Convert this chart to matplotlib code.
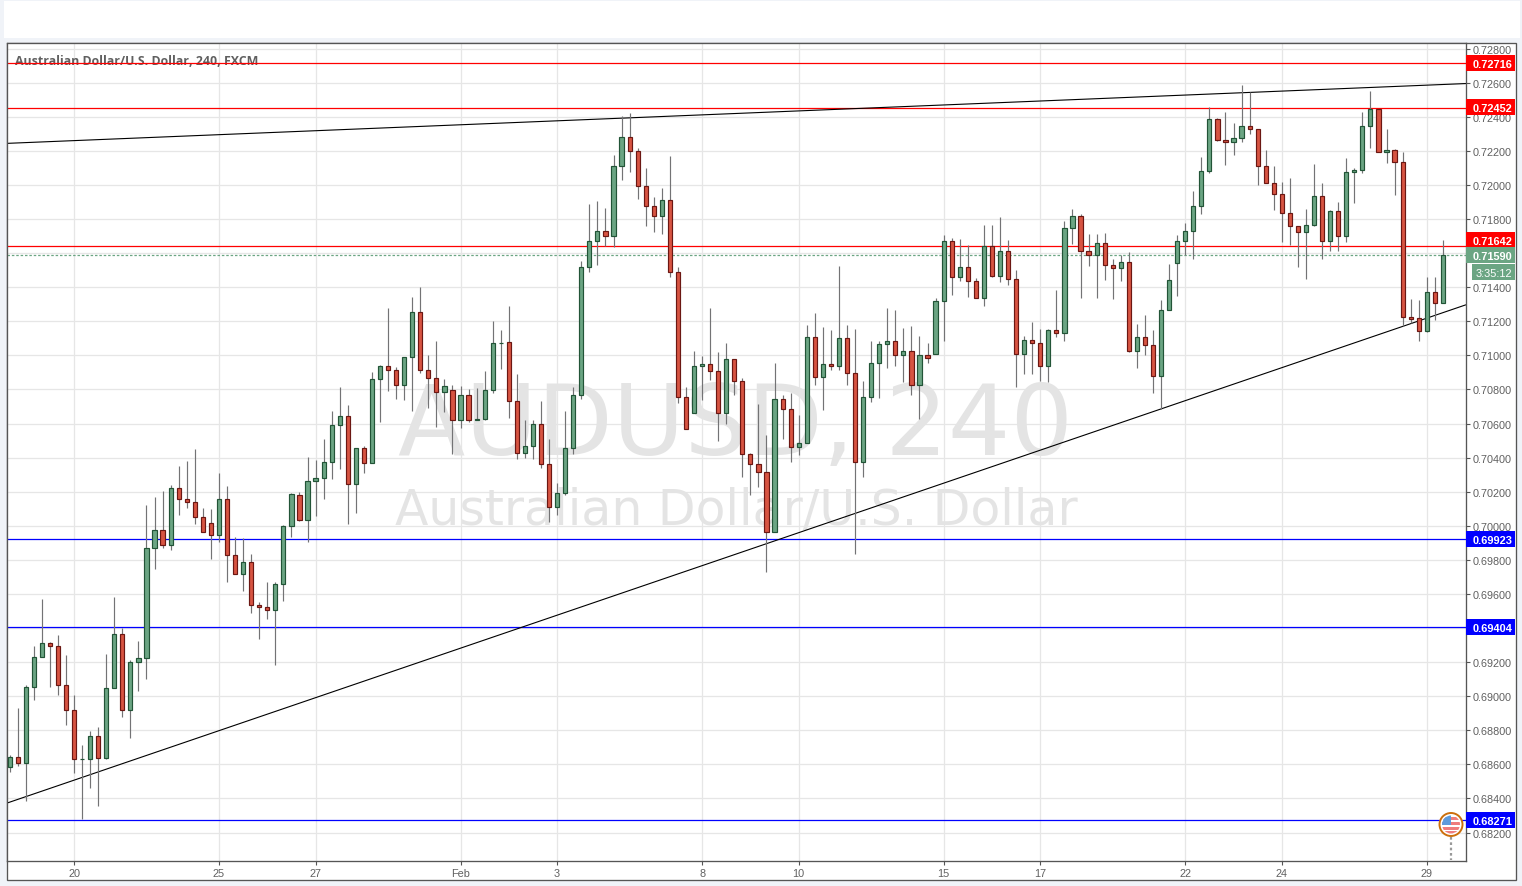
import matplotlib
matplotlib.use("Agg")
import matplotlib.pyplot as plt
from matplotlib.patches import Rectangle, Circle

# Prices are stored in 1/100000 units
opens = [68585,68646,68611,69057,69233,69315,69292,69063,68922,68629,
 68629,68764,68635,69051,69368,68922,69198,69227,69867,69978,
 69885,70219,70160,70142,70054,70016,69946,70160,69831,69720,
 69790,69538,69521,69503,69656,69996,70182,70035,70265,70282,
 70376,70594,70647,70247,70459,70370,70859,70935,70912,70824,
 70988,71253,70912,70870,70788,70794,70618,70765,70623,70629,
 70794,71071,71076,70735,70429,70470,70600,70365,70112,70194,
 70459,70765,71518,71670,71729,71700,72112,72282,72200,71994,
 71876,71818,71912,71488,70753,70664,70935,70947,70906,70664,
 70976,70847,70423,70364,70317,69964,70747,70688,70464,70488,
 71106,70876,70947,70935,71100,70894,70376,70753,70953,71065,
 71083,71000,71024,70824,71000,71006,71318,71671,71459,71518,
 71435,71336,71641,71465,71612,71447,71006,71088,71071,70935,
 71147,71130,71747,71818,71612,71589,71659,71530,71512,71547,
 71024,71106,71059,70877,71265,71541,71671,71730,71877,72083,
 72389,72265,72253,72277,72347,72330,72112,72012,71947,71836,
 71759,71724,71765,71936,71671,71847,71700,72077,72089,72347,
 72447,72194,72206,72136,71224,71218,71141,71371,71306]
highs = [68658,68930,69063,69292,69570,69321,69362,69239,69010,68711,
 68793,68817,69247,69581,69403,69210,69323,70121,70168,70203,
 70242,70350,70379,70453,70102,70096,70309,70232,69937,69926,
 69837,69550,69673,69673,70002,70190,70200,70406,70388,70512,
 70676,70812,70706,70459,70470,70900,70941,71276,70929,70988,
 71341,71400,71000,71082,70859,70829,70818,70800,70806,70906,
 71200,71147,71288,70888,70623,70623,70735,70512,70253,70676,
 70812,71553,71888,71906,71865,72176,72406,72424,72218,72100,
 71929,71982,72170,71518,70817,71023,70994,71276,71018,71070,
 70976,70865,70429,70717,70535,70953,70770,70782,70653,71176,
 71247,71165,71147,71523,71176,71153,70847,71083,71083,71277,
 71265,71159,71171,71114,71071,71336,71706,71689,71683,71647,
 71453,71765,71765,71812,71677,71500,71114,71194,71153,71153,
 71383,71789,71859,71830,71712,71712,71718,71565,71589,71606,
 71183,71236,71147,71324,71536,71706,71777,71965,72165,72459,
 72394,72430,72365,72585,72545,72330,72206,72112,72018,72042,
 71759,71859,72124,72012,71853,71900,72159,72100,72430,72553,
 72447,72330,72212,72194,71330,71324,71459,71459,71677]
lows = [68556,68592,68386,68979,69233,69055,69008,68832,68550,68280,
 68460,68357,68629,69051,68879,68756,69032,69102,69748,69871,
 69859,70064,70106,70011,69966,69806,69906,69671,69720,69618,
 69489,69337,69454,69184,69560,69935,70029,69906,70057,70157,
 70274,70333,70010,70074,70310,70370,70610,70792,70745,70739,
 70674,70894,70694,70580,70670,70422,70576,70610,70623,70623,
 70780,70918,70633,70392,70398,70392,70340,70020,70063,70182,
 70422,70747,71492,71533,71641,71635,72030,72076,71918,71759,
 71723,71712,71459,70723,70570,70664,70741,70853,70500,70600,
 70765,70288,70182,70229,69729,69964,70510,70376,70417,70488,
 70829,70682,70912,70917,70829,69835,70288,70724,70751,70924,
 70935,70845,70765,70628,70953,71006,71086,71353,71435,71341,
 71336,71288,71459,71430,71412,70812,70888,70888,70847,70841,
 71106,71083,71651,71339,71522,71334,71445,71328,71439,71018,
 70928,71000,70777,70688,71265,71349,71588,71563,71828,72069,
 72257,72116,72175,72251,72298,71998,72012,71851,71665,71645,
 71516,71451,71757,71563,71610,71610,71667,71892,72069,72216,
 72194,72130,71940,71171,71188,71083,71136,71206,71306]
closes = [68646,68611,69057,69233,69315,69292,69063,68922,68629,68632,
 68764,68635,69051,69368,68922,69198,69227,69867,69978,69885,
 70219,70160,70142,70054,69966,69946,70160,69831,69720,69790,
 69538,69521,69503,69656,69996,70184,70035,70265,70282,70376,
 70594,70647,70247,70459,70370,70859,70935,70912,70824,70988,
 71253,70912,70870,70788,70818,70618,70765,70623,70625,70794,
 71071,71075,70735,70429,70470,70600,70365,70112,70194,70459,
 70765,71518,71670,71729,71700,72112,72282,72200,71994,71876,
 71818,71912,71488,70753,70570,70935,70947,70906,70664,70976,
 70847,70423,70364,70317,69964,70747,70688,70464,70488,71106,
 70876,70947,70935,71100,70894,70376,70753,70953,71065,71083,
 71000,71024,70824,71000,70983,71318,71671,71459,71518,71435,
 71336,71641,71465,71612,71447,71006,71088,71071,70935,71147,
 71130,71747,71818,71612,71589,71659,71530,71512,71547,71024,
 71106,71059,70877,71265,71441,71671,71730,71877,72083,72389,
 72265,72253,72277,72347,72330,72112,72012,71947,71836,71759,
 71724,71765,71936,71671,71847,71700,72077,72089,72347,72447,
 72194,72206,72136,71224,71212,71141,71371,71306,71590]

date_labels = ["20", "25", "27", "Feb", "3", "8", "10", "15", "17", "22", "24", "29"]
date_bars = [8, 26, 38, 56, 68, 86, 98, 116, 128, 146, 158, 176]
price_ticks = [68200 + 200 * k for k in range(24)]

level_prices = [72716, 72452, 71642, 69923, 69404, 68271]
level_colors = ["#ff0000", "#ff0000", "#ff0000", "#0000ff", "#0000ff", "#0000ff"]
level_tag_at = [72716, 72456, 71677, 69923, 69404, 68271]
last_price = 71590

X0, X1 = -0.385, 180.81
upper_trend_bars = [X0, X1]
upper_trend_prices = [72244, 72595]
lower_trend_bars = [X0, X1]
lower_trend_prices = [68372, 71296]

W, H = 1522, 887
SCALE = 1e5
BG = "#f0f3f8"
FRAME = "#555555"
TXT = "#606060"
FONT = ["Liberation Sans", "DejaVu Sans"]

fig = plt.figure(figsize=(W / 100, H / 100), dpi=100, facecolor=BG)
fig.add_artist(Rectangle((4 / W, 1 - 39 / H), (W - 6) / W, 37 / H, transform=fig.transFigure,
                         facecolor="white", edgecolor="none", zorder=-2))
fig.add_artist(Rectangle((6.5 / W, 1 - 880.5 / H), 1509 / W, 837 / H, transform=fig.transFigure,
                         facecolor="white", edgecolor=FRAME, lw=0.95, zorder=-1))

L, R, T, B = 6.5, 1465.5, 43.5, 861.5
ax = fig.add_axes([L / W, 1 - B / H, (R - L) / W, (B - T) / H], facecolor="white")
ax.set_xlim(X0, X1)
ax.set_ylim(0.68036, 0.72836)
for s in ax.spines.values():
    s.set_color(FRAME)
    s.set_linewidth(0.95)
ax.set_axisbelow(True)
ax.grid(True, color="#e6e6e6", lw=0.9)

ax.yaxis.tick_right()
ax.set_yticks([v / SCALE for v in price_ticks])
ax.set_yticklabels([f"{v / SCALE:.5f}" for v in price_ticks], family=FONT, fontsize=7.8, color=TXT)
ax.set_xticks(date_bars)
ax.set_xticklabels(date_labels, family=FONT, fontsize=7.8, color=TXT)
ax.tick_params(axis="y", length=3.2, width=0.8, color=FRAME, pad=2.2)
ax.tick_params(axis="x", length=3.2, width=0.8, color=FRAME, pad=2.0)

def fy(y):
    return 1 - (y - T) / (B - T)

ax.text(0.5, fy(455), "AUDUSD, 240", transform=ax.transAxes, ha="center", va="baseline",
        fontsize=70.8, color="#e4e4e4", family="DejaVu Sans", zorder=1)
ax.text(0.5, fy(525.5), "Australian Dollar/U.S. Dollar", transform=ax.transAxes, ha="center", va="baseline",
        fontsize=35.2, color="#e4e4e4", family="DejaVu Sans", zorder=1)

ax.text((15 - L) / (R - L), fy(61), "Australian Dollar/U.S. Dollar, 240, FXCM",
        transform=ax.transAxes, ha="left", va="center", family="Open Sans", fontweight="bold",
        fontsize=8.9, color=TXT, zorder=1.2)

for p, c in zip(level_prices, level_colors):
    ax.axhline(p / SCALE, color=c, lw=0.9, zorder=2)
ax.axhline(last_price / SCALE, color="#6ba583", lw=0.9, ls=(0, (2, 1.5)), zorder=2)
ax.plot(upper_trend_bars, [v / SCALE for v in upper_trend_prices], color="black", lw=0.8, zorder=2.1)
ax.plot(lower_trend_bars, [v / SCALE for v in lower_trend_prices], color="black", lw=0.8, zorder=2.1)

bars = list(range(len(opens)))
ax.vlines(bars, [v / SCALE for v in lows], [v / SCALE for v in highs], color="#737375", lw=0.85, zorder=3)
up_face, up_edge, dn_face, dn_edge = "#6ba583", "#225437", "#d75442", "#6b1713"
for i, o, c in zip(bars, opens, closes):
    lo, hi = min(o, c) / SCALE, max(o, c) / SCALE
    is_up = c >= o
    ax.bar(i, hi - lo, bottom=lo, width=0.52, facecolor=up_face if is_up else dn_face,
           edgecolor=up_edge if is_up else dn_edge, lw=0.85, zorder=4)

# Price tags on the scale
ytrans = ax.get_yaxis_transform()
tag_w = 49.5 / (R - L)
tag_h = 0.00094
def tag(value, at, color):
    ax.add_patch(Rectangle((1, at / SCALE - tag_h / 2), tag_w, tag_h, transform=ytrans, facecolor=color,
                           edgecolor="none", clip_on=False, zorder=6))
    ax.text(1 + tag_w * 0.54, at / SCALE, f"{value / SCALE:.5f}", transform=ytrans, ha="center", va="center_baseline",
            family=FONT, fontweight="bold", fontsize=7.9, color="white", clip_on=False, zorder=7)
for p, a, c in zip(level_prices, level_tag_at, level_colors):
    tag(p, a, c)
tag(last_price, last_price, "#6ba583")

# Overlay in pixel coordinates: countdown and event marker
ov = fig.add_axes([0, 0, 1, 1], facecolor="none")
ov.set_xlim(0, W)
ov.set_ylim(H, 0)
ov.axis("off")
ov.add_patch(Rectangle((1472, 265), 43, 16, facecolor="#6ba583", edgecolor="none"))
ov.text(1493.5, 273, "3:35:12", ha="center", va="center_baseline", family=FONT, fontsize=7.8, color="white")

cx, cy, rad = 1451, 825.5, 11.5
ov.plot([cx, cx], [838, 861], color="#999999", lw=1.6, ls=(0, (1.2, 1.2)))
ov.add_patch(Circle((cx, cy), rad, facecolor="white", edgecolor="#cc6f0c", lw=1.4, zorder=3))
clip = Circle((cx, cy), rad - 2.5, transform=ov.transData)
for dy, hh in [(-7, 2.6), (-2, 2.6), (3, 2.6), (7, 2.6)]:
    r = Rectangle((cx - 10, cy + dy), 20, hh, facecolor="#ee7d7d", edgecolor="none", zorder=4)
    ov.add_patch(r)
    r.set_clip_path(clip)
r = Rectangle((cx - 10, cy - 10), 10, 10.5, facecolor="#5d9bdc", edgecolor="none", zorder=5)
ov.add_patch(r)
r.set_clip_path(clip)

fig.savefig("out.png", dpi=100, facecolor=BG)
